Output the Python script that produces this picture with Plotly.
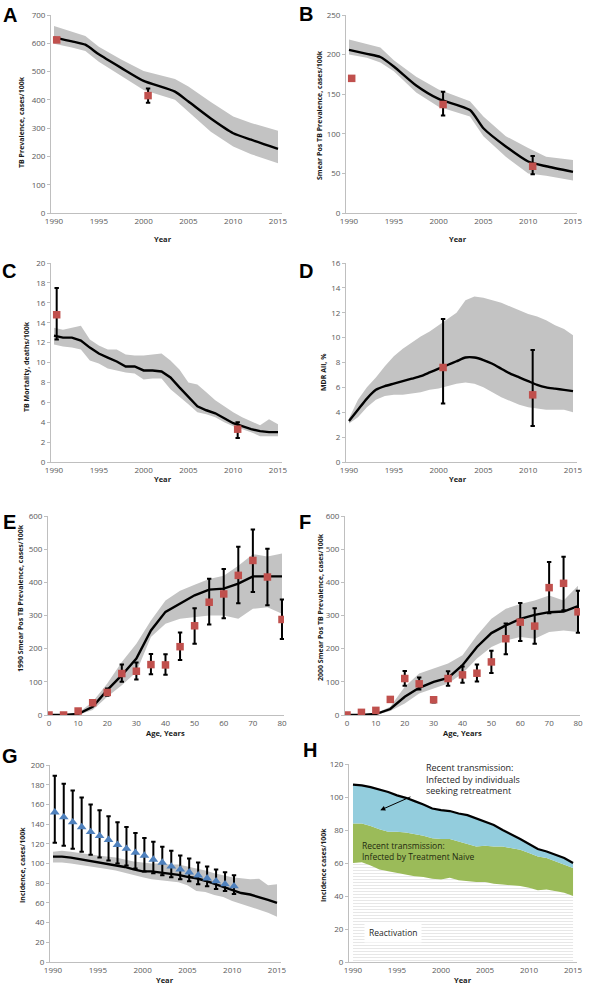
import plotly.graph_objects as go

W, H = 589, 992

# ---------------- DATA ----------------
# Panel A: TB prevalence
A_years = [1990, 1992, 1993.5, 1995, 1997.5, 2000, 2003.5, 2005, 2007.5, 2010, 2012, 2015]
A_mean = [620, 607, 595, 561, 513, 467, 429, 394, 334, 282, 259, 227]
A_upper = [661, 641, 626, 588, 543, 502, 474, 447, 392, 341, 318, 291]
A_lower = [598, 585, 573, 535, 485, 435, 400, 359, 287, 235, 208, 176]
A_obs_x = [1990.3, 2000.5]
A_obs = [612, 415]
A_obs_hi = [616, 440]
A_obs_lo = [608, 390]

# Panel B: smear positive prevalence
B_years = [1990, 1992, 1993.5, 1995, 1997.5, 2000, 2003.5, 2005, 2007.5, 2010, 2012, 2015]
B_mean = [206, 201, 197, 185, 161, 144, 130, 107, 84, 65, 59, 52]
B_upper = [219, 213, 209, 193, 172, 156, 141, 122, 97, 82, 71, 67]
B_lower = [200, 196, 190, 179, 152, 134, 122, 97, 71, 50, 47, 41]
B_obs_x = [1990.3, 2000.5, 2010.5]
B_obs = [170, 137, 59]
B_obs_hi = [173, 153, 72]
B_obs_lo = [167, 123, 49]

# Panel C: TB mortality
C_years = list(range(1990, 2016))
C_mean = [12.7, 12.5, 12.5, 12.2, 11.5, 10.9, 10.5, 10.1, 9.6, 9.6, 9.2, 9.2, 9.1, 8.5,
          7.5, 6.5, 5.6, 5.2, 4.9, 4.4, 3.9, 3.6, 3.3, 3.1, 3.0, 3.0]
C_upper = [13.5, 13.3, 13.5, 13.7, 12.3, 11.7, 11.3, 11.3, 10.8, 10.7, 10.7, 10.8, 10.9, 10.2,
           9.3, 8.0, 7.8, 7.0, 6.2, 5.6, 5.0, 4.5, 4.1, 3.7, 4.3, 3.8]
C_lower = [11.8, 11.6, 11.5, 11.3, 10.2, 9.9, 9.4, 9.2, 9.0, 8.9, 8.3, 8.4, 8.4, 7.3,
           6.6, 5.8, 5.0, 4.8, 4.5, 4.0, 3.6, 3.3, 3.0, 2.6, 2.6, 2.6]
C_obs_x = [1990.3, 2010.5]
C_obs = [14.8, 3.3]
C_obs_hi = [17.5, 4.0]
C_obs_lo = [12.3, 2.4]

# Panel D: MDR all
D_years = list(range(1990, 2016))
D_mean = [3.3, 4.2, 5.1, 5.8, 6.1, 6.3, 6.5, 6.7, 6.9, 7.2, 7.5, 7.8, 8.1, 8.4, 8.4, 8.2,
          7.9, 7.5, 7.1, 6.8, 6.5, 6.2, 6.0, 5.9, 5.8, 5.7]
D_upper = [3.5, 5.0, 6.0, 6.8, 7.7, 8.5, 9.1, 9.6, 10.1, 10.5, 11.0, 11.5, 12.0, 13.0, 13.3,
           13.2, 13.0, 12.8, 12.5, 12.2, 11.9, 11.7, 11.4, 11.0, 10.7, 10.2]
D_lower = [3.1, 3.6, 4.4, 5.0, 5.3, 5.4, 5.4, 5.5, 5.6, 5.8, 5.9, 6.1, 6.3, 6.4, 6.3, 6.0,
           5.6, 5.2, 4.9, 4.6, 4.4, 4.3, 4.2, 4.2, 4.2, 4.0]
D_obs_x = [2000.5, 2010.5]
D_obs = [7.6, 5.4]
D_obs_hi = [11.5, 9.0]
D_obs_lo = [4.7, 2.9]

# Panel E: 1990 smear pos prevalence by age
E_age = [0, 5, 10, 15, 20, 25, 30, 35, 40, 45, 50, 55, 60, 65, 70, 75, 80]
E_mean = [0, 0, 3, 25, 75, 120, 170, 255, 311, 337, 361, 378, 381, 396, 418, 418, 418]
E_upper = [0, 1, 6, 40, 95, 160, 215, 285, 345, 375, 393, 410, 420, 450, 485, 478, 487]
E_lower = [0, 0, 1, 15, 55, 90, 130, 235, 275, 290, 295, 300, 300, 290, 320, 325, 305]
E_obs = [0, 0, 12, 37, 68, 125, 132, 152, 151, 206, 269, 340, 365, 421, 466, 416, 288]
E_obs_hi = [0, 0, 15, 43, 80, 152, 158, 184, 183, 249, 322, 411, 440, 507, 559, 501, 348]
E_obs_lo = [0, 0, 9, 31, 58, 100, 107, 123, 121, 166, 215, 273, 292, 337, 371, 331, 229]

# Panel F: 2000 smear pos prevalence by age
F_age = [0, 5, 10, 15, 20, 25, 30, 35, 40, 45, 50, 55, 60, 65, 70, 75, 80]
F_mean = [0, 0, 3, 18, 55, 82, 100, 112, 150, 205, 247, 270, 290, 302, 310, 312, 328]
F_upper = [0, 1, 5, 25, 85, 125, 140, 155, 180, 240, 290, 320, 335, 345, 360, 345, 390]
F_lower = [0, 0, 0, 12, 35, 65, 80, 95, 125, 170, 205, 225, 235, 230, 250, 255, 250]
F_obs = [0, 8, 14, 47, 110, 94, 46, 110, 121, 126, 160, 230, 280, 268, 384, 397, 311]
F_obs_hi = [0, 9, 17, 54, 133, 113, 53, 132, 146, 152, 194, 276, 338, 322, 461, 477, 375]
F_obs_lo = [0, 7, 11, 42, 88, 77, 38, 88, 97, 101, 127, 183, 223, 215, 307, 316, 248]

# Panel G: incidence
G_years = list(range(1990, 2016))
G_mean = [107, 107, 106, 104.5, 103, 101.5, 100, 98.5, 96.5, 94, 92, 92, 91, 89.5, 88.5, 86.5,
          85, 82.5, 79.5, 76.5, 73, 70, 68.5, 66, 63, 60]
G_upper = [112, 113, 112, 111, 109.5, 108, 107, 106, 104, 102, 101, 100, 100, 99, 99, 97,
           95, 93, 90, 88, 86, 85, 84, 84.5, 78, 79]
G_lower = [101, 101, 100, 99, 97.5, 96, 94.5, 93, 91, 88.5, 86, 84, 83, 82, 81, 78,
           72, 71, 68, 66, 62, 59, 56, 53, 50, 46]
G_obs_x = [1990.2, 1991.2, 1992.2, 1993.2, 1994.2, 1995.2, 1996.2, 1997.2, 1998.2, 1999.2,
           2000.2, 2001.2, 2002.2, 2003.2, 2004.2, 2005.2, 2006.2, 2007.2, 2008.2, 2009.2, 2010.2]
G_obs = [152, 147, 142, 137, 132, 128, 124, 119, 115, 111, 108, 104, 101, 97, 94, 91, 88, 85, 82, 79, 77]
G_obs_hi = [189, 181, 174, 167, 160, 154, 148, 142, 137, 131, 126, 122, 117, 113, 108, 105, 101, 97, 94, 91, 88]
G_obs_lo = [121, 118, 115, 112, 109, 106, 103, 100, 98, 95, 92, 90, 88, 86, 84, 82, 79, 77, 74, 72, 69]

# Panel H: incidence decomposition (cumulative tops)
H_years = list(range(1990, 2016))
H_reactivation = [60, 60.5, 58.5, 56, 55, 54, 53, 52, 51.5, 50.5, 50, 51, 49.5, 49, 48.5, 48.5,
                  47.5, 47, 46.5, 46, 45, 43.5, 44, 43, 42, 40]
H_naive_top = [84, 84, 82.5, 80.5, 79, 79, 78.5, 77.5, 76.5, 75, 74.5, 74.5, 73, 71.5, 70, 70.5,
               70, 70, 69, 68, 66, 64, 63, 61, 59, 57]
H_total = [107.5, 107, 106, 104.5, 103, 101, 99.5, 97.5, 95.5, 93, 92, 91.5, 90, 89, 87, 85,
           83, 80, 77.5, 74.5, 71.5, 68.5, 67, 65, 63, 60]

year_ticks = [1990, 1995, 2000, 2005, 2010, 2015]
age_ticks = [0, 10, 20, 30, 40, 50, 60, 70, 80]

# ---------------- STYLE ----------------
BAND = "#C3C3C3"
RED = "#C0504D"
TRI = "#4F81BD"
BLUE_AREA = "#93CDDD"
GREEN_AREA = "#9BBB59"
AXIS = "#BFBFBF"
TICKC = "#595959"
FONT = "Open Sans"


def px_x(p):
    return p / W


def px_y(p):
    return 1 - p / H


fig = go.Figure()


def band(xs, up, lo, ax):
    fig.add_trace(go.Scatter(x=list(xs) + list(xs)[::-1], y=list(up) + list(lo)[::-1],
                             fill="toself", fillcolor=BAND, line=dict(width=0),
                             mode="lines", hoverinfo="skip", showlegend=False,
                             xaxis="x" + ax, yaxis="y" + ax))


def line(xs, ys, ax, shape="linear"):
    fig.add_trace(go.Scatter(x=xs, y=ys, mode="lines",
                             line=dict(color="black", width=2.4, shape=shape,
                                       smoothing=0.6 if shape == "spline" else None),
                             showlegend=False, xaxis="x" + ax, yaxis="y" + ax))


def obs(xs, ys, hi, lo, ax, symbol="square", color=RED, size=7.5):
    fig.add_trace(go.Scatter(
        x=xs, y=ys, mode="markers",
        marker=dict(symbol=symbol, color=color, size=size, line=dict(width=0)),
        error_y=dict(type="data", symmetric=False,
                     array=[h - v for h, v in zip(hi, ys)],
                     arrayminus=[v - l for v, l in zip(ys, lo)],
                     color="black", thickness=2, width=2.2),
        showlegend=False, xaxis="x" + ax, yaxis="y" + ax))


# A
band(A_years, A_upper, A_lower, "")
line(A_years, A_mean, "", "spline")
obs(A_obs_x, A_obs, A_obs_hi, A_obs_lo, "")
# B
band(B_years, B_upper, B_lower, "2")
line(B_years, B_mean, "2", "spline")
obs(B_obs_x, B_obs, B_obs_hi, B_obs_lo, "2")
# C
band(C_years, C_upper, C_lower, "3")
line(C_years, C_mean, "3")
obs(C_obs_x, C_obs, C_obs_hi, C_obs_lo, "3")
# D
band(D_years, D_upper, D_lower, "4")
line(D_years, D_mean, "4", "spline")
obs(D_obs_x, D_obs, D_obs_hi, D_obs_lo, "4")
# E
band(E_age, E_upper, E_lower, "5")
line(E_age, E_mean, "5")
obs(E_age, E_obs, E_obs_hi, E_obs_lo, "5")
# F
band(F_age, F_upper, F_lower, "6")
line(F_age, F_mean, "6")
obs(F_age, F_obs, F_obs_hi, F_obs_lo, "6")
# G
band(G_years, G_upper, G_lower, "7")
line(G_years, G_mean, "7")
obs(G_obs_x, G_obs, G_obs_hi, G_obs_lo, "7", symbol="triangle-up", color=TRI, size=8.5)
# H
fig.add_trace(go.Scatter(x=H_years, y=H_reactivation, mode="lines", fill="tozeroy",
                         fillcolor="white",
                         fillpattern=dict(shape="-", fgcolor="#D0D0D0", bgcolor="white",
                                          size=3, solidity=0.35),
                         line=dict(width=0), showlegend=False, xaxis="x8", yaxis="y8"))
fig.add_trace(go.Scatter(x=H_years, y=H_naive_top, mode="lines", fill="tonexty",
                         fillcolor=GREEN_AREA, line=dict(width=0), showlegend=False,
                         xaxis="x8", yaxis="y8"))
fig.add_trace(go.Scatter(x=H_years, y=H_total, mode="lines", fill="tonexty",
                         fillcolor=BLUE_AREA, line=dict(width=2.2, color="black"),
                         showlegend=False, xaxis="x8", yaxis="y8"))

# ---------------- AXES ----------------
def axis_common():
    return dict(showline=True, linecolor=AXIS, linewidth=1, ticks="outside", ticklen=3,
                tickcolor=AXIS, showgrid=False, zeroline=False, automargin=False,
                ticklabeloverflow="allow",
                tickfont=dict(family=FONT, size=8, color=TICKC))


panels = [
    # name, x px domain, xrange, xticks, y px (top,bottom), yrange, ydtick
    ("", (51, 282), (1989.665, 2015.446), year_ticks, (15, 213), (0, 700), 100),
    ("2", (346, 577), (1989.665, 2015.446), year_ticks, (15, 213), (0, 250), 50),
    ("3", (51, 282), (1989.665, 2015.446), year_ticks, (263, 462), (0, 20), 2),
    ("4", (346, 577), (1989.665, 2015.446), year_ticks, (263, 462), (0, 16), 2),
    ("5", (48, 284), (-0.343, 80.69), age_ticks, (516, 715), (0, 600), 100),
    ("6", (345, 580), (-0.69, 80.69), age_ticks, (516, 715), (0, 600), 100),
    ("7", (50, 281), (1989.665, 2015.446), year_ticks, (765, 962), (0, 200), 20),
    ("8", (349, 577), (1989.545, 2015.45), year_ticks, (764, 962), (0, 120), 20),
]

layout = dict(width=W, height=H, margin=dict(l=0, r=0, t=0, b=0, autoexpand=False),
              paper_bgcolor="white", plot_bgcolor="rgba(0,0,0,0)", showlegend=False)
for name, xd, xr, xt, yd, yr, ydt in panels:
    xa = axis_common()
    xa.update(domain=[px_x(xd[0]), px_x(xd[1])], range=list(xr), tickvals=xt,
              anchor="y" + name, ticklen=0)
    ya = axis_common()
    ya.update(domain=[px_y(yd[1]), px_y(yd[0])], range=list(yr), dtick=ydt, tick0=0,
              anchor="x" + name)
    layout["xaxis" + name] = xa
    layout["yaxis" + name] = ya
fig.update_layout(**layout)

# ---------------- TEXT ----------------
ann = []


def text(x, y, s, size, bold=False, angle=0, color="#262626", family=FONT, xanchor="center",
         yanchor="middle", align="center"):
    ann.append(dict(x=px_x(x), y=px_y(y), xref="paper", yref="paper", text=("<b>%s</b>" % s) if bold else s,
                    showarrow=False, textangle=angle, xanchor=xanchor, yanchor=yanchor, align=align,
                    font=dict(size=size, color=color, family=family)))


# panel letters
for letter, x, y in [("A", 10, 15), ("B", 306, 14), ("C", 9, 271), ("D", 306, 271),
                     ("E", 9, 522), ("F", 305, 522), ("G", 10, 756), ("H", 310, 750)]:
    text(x, y, letter, 20, bold=True, color="black", family="Liberation Sans")

# y axis titles
for s, x, y in [("TB Prevalence, cases/100k", 21, 122),
                ("Smear Pos TB Prevalence, cases/100k", 319, 115),
                ("TB Mortality, deaths/100k", 27, 367),
                ("MDR All, %", 323, 372),
                ("1990 Smear Pos TB Prevalence, cases/100k", 20, 598),
                ("2000 Smear Pos TB Prevalence, cases/100k", 320, 607),
                ("Incidence, cases/100k", 22, 865),
                ("Incidence cases/100k", 323, 865)]:
    text(x, y, s, 7, bold=True, angle=-90, color="#1a1a1a")

# x axis titles
for s, x, y in [("Year", 163, 239), ("Year", 458, 239), ("Year", 163, 479), ("Year", 458, 479),
                ("Age, Years", 165, 733), ("Age, Years", 462, 733), ("Year", 165, 980),
                ("Year", 463, 980)]:
    text(x, y, s, 7.5, bold=True, color="#1a1a1a")

fig.update_layout(annotations=ann)

# H in-plot annotations (data coordinates)
fig.add_annotation(x=1998.1, y=111, xref="x8", yref="y8", xanchor="left", yanchor="middle",
                   align="left", showarrow=False,
                   text="Recent transmission:<br>Infected by individuals<br>seeking retreatment",
                   font=dict(size=9, color="#262626", family=FONT))
fig.add_annotation(x=1990.8, y=67, xref="x8", yref="y8", xanchor="left", yanchor="middle",
                   align="left", showarrow=False,
                   text="Recent transmission:<br>Infected by Treatment Naive",
                   font=dict(size=8.5, color="#1f2a10", family=FONT))
fig.add_annotation(x=1994.5, y=18, xref="x8", yref="y8", showarrow=False,
                   text="Reactivation", bgcolor="white", borderpad=4,
                   font=dict(size=8.5, color="#262626", family=FONT))
fig.add_annotation(x=1993.1, y=92, ax=1996.7, ay=100.5, xref="x8", yref="y8",
                   axref="x8", ayref="y8", showarrow=True, arrowhead=2, arrowsize=1,
                   arrowwidth=1, arrowcolor="black", text="")

fig.write_html("out.html", config={"displayModeBar": False},
               post_script="document.body.style.margin='0';document.body.style.overflow='hidden';")
